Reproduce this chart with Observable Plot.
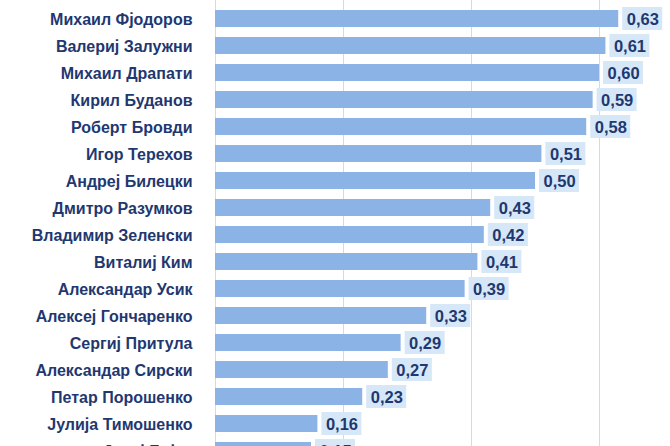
<!DOCTYPE html>
<html>
<head>
<meta charset="utf-8">
<script src="https://cdn.jsdelivr.net/npm/d3@7"></script>
<script src="https://cdn.jsdelivr.net/npm/@observablehq/plot@0.6"></script>
<style>
  html, body { margin: 0; padding: 0; background: #ffffff; }
  #chart { width: 670px; height: 446px; overflow: hidden; }
</style>
</head>
<body>
<div id="chart"></div>
<script>
const names = [
  "Михаил Фјодоров", "Валериј Залужни", "Михаил Драпати", "Кирил Буданов",
  "Роберт Бровди", "Игор Терехов", "Андреј Билецки", "Дмитро Разумков",
  "Владимир Зеленски", "Виталиј Ким", "Александар Усик", "Алексеј Гончаренко",
  "Сергиј Притула", "Александар Сирски", "Петар Порошенко", "Јулија Тимошенко",
  "Јуриј Бојко"
];
const values = [0.63, 0.61, 0.60, 0.59, 0.58, 0.51, 0.50, 0.43, 0.42, 0.41, 0.39, 0.33, 0.29, 0.27, 0.23, 0.16, 0.15];
const gridTicks = [0, 0.2, 0.4, 0.6];

const data = names.map((name, i) => ({name, value: values[i]}));
const fmt = d3.formatLocale({decimal: ",", thousands: ".", grouping: [3], currency: ["", ""]}).format(".2f");

const navy = "#1f3870";
const font = "'Liberation Sans', Arial, sans-serif";

const chart = Plot.plot({
  width: 670,
  height: 469,
  marginTop: 0,
  marginBottom: 0,
  marginLeft: 215,
  marginRight: 0,
  style: {background: "#ffffff", fontFamily: font},
  x: {domain: [0, 0.7109], axis: null},
  y: {domain: names, paddingInner: 0.376, paddingOuter: 0.297, axis: null},
  marks: [
    Plot.ruleX(gridTicks, {stroke: "#d9d9d9", strokeWidth: 1}),
    Plot.barX(data, {y: "name", x: "value", fill: "#8cb3e6"}),
    Plot.barX(data, {y: "name", x1: "value", x2: "value", fill: "#d6e7f8",
      insetLeft: 4, insetRight: -44, insetTop: -3, insetBottom: -3}),
    Plot.text(data, {y: "name", x: "value", text: d => fmt(d.value), textAnchor: "start", dx: 8, dy: 1,
      fill: navy, fontSize: 16.5, fontWeight: "bold", fontFamily: font}),
    Plot.text(data, {y: "name", x: 0, text: "name", textAnchor: "end", dx: -23, dy: 0.5,
      fill: navy, fontSize: 16, fontWeight: "bold", fontFamily: font})
  ]
});
document.getElementById("chart").appendChild(chart);
</script>
</body>
</html>
